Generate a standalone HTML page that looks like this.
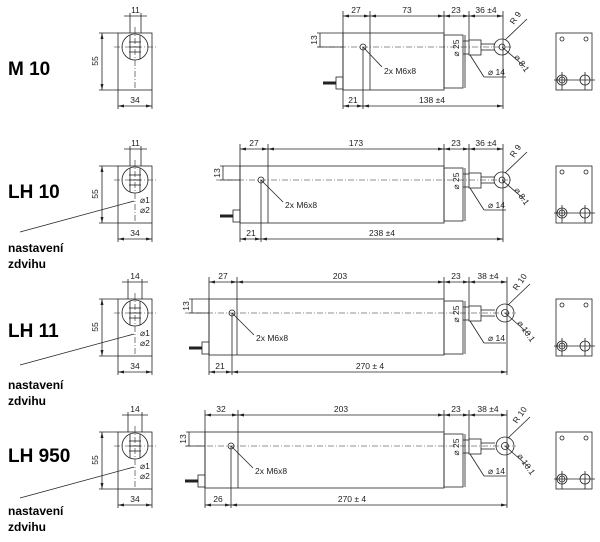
<!DOCTYPE html>
<html><head><meta charset="utf-8"><style>
html,body{margin:0;padding:0;background:#fff;}
svg{display:block;font-family:"Liberation Sans",sans-serif;}
.l{stroke:#222;stroke-width:0.8;fill:none}
.c{stroke:#222;stroke-width:0.6;fill:none;stroke-dasharray:6 2 1 2}
.t{font-size:8.5px;fill:#222}
.b{font-size:19px;font-weight:bold;fill:#000}
.n{font-size:12px;font-weight:bold;fill:#000}
</style></head><body>
<svg width="600" height="542" viewBox="0 0 600 542" xmlns="http://www.w3.org/2000/svg">
<defs>
<marker id="a" markerWidth="6" markerHeight="4" refX="6" refY="2" orient="auto-start-reverse" markerUnits="userSpaceOnUse"><path d="M0,0.5 L6,2 L0,3.5z" fill="#222"/></marker>
<g id="lv">
<rect class="l" x="118" y="0" width="34" height="57"/>
<circle class="l" cx="135" cy="14" r="13"/>
<line class="l" x1="130" y1="2" x2="130" y2="26"/><line class="l" x1="140" y1="2" x2="140" y2="26"/>
<line class="l" x1="129" y1="9" x2="141" y2="9"/><line class="l" x1="129" y1="14" x2="141" y2="14"/><line class="l" x1="129" y1="19" x2="141" y2="19"/>
<line class="c" x1="135" y1="-6" x2="135" y2="57"/><line class="c" x1="114" y1="14" x2="156" y2="14"/>
<line class="l" x1="99" y1="0" x2="118" y2="0"/><line class="l" x1="99" y1="57" x2="118" y2="57"/>
<line class="l" x1="102" y1="0" x2="102" y2="57" marker-start="url(#a)" marker-end="url(#a)"/>
<text class="t" transform="translate(98,28) rotate(-90)" text-anchor="middle">55</text>
<line class="l" x1="118" y1="57" x2="118" y2="76"/><line class="l" x1="152" y1="57" x2="152" y2="76"/>
<line class="l" x1="118" y1="73" x2="152" y2="73" marker-start="url(#a)" marker-end="url(#a)"/>
<text class="t" x="135" y="70" text-anchor="middle">34</text>
</g>
<g id="pl">
<rect class="l" x="556" y="0" width="36" height="57"/>
<circle class="l" cx="562" cy="6" r="2"/><circle class="l" cx="586" cy="6" r="2"/>
<circle class="l" cx="562" cy="47" r="5"/><circle class="l" cx="562" cy="47" r="3"/><circle class="l" cx="585" cy="47" r="5"/>
<line class="l" x1="554" y1="47" x2="595" y2="47"/><line class="l" x1="562" y1="39" x2="562" y2="57"/><line class="l" x1="585" y1="39" x2="585" y2="57"/>
</g>
<g id="rod">
<rect class="l" x="444" y="2" width="19" height="53"/>
<line class="l" x1="463" y1="8" x2="469" y2="8"/><line class="l" x1="463" y1="21" x2="469" y2="21"/>
<rect class="l" x="469" y="7" width="12" height="15"/>
<line class="l" x1="481" y1="11" x2="495" y2="11"/><line class="l" x1="481" y1="17" x2="495" y2="17"/>
<text class="t" transform="translate(459,15) rotate(-90)" text-anchor="middle">⌀ 25</text>
<line class="l" x1="465" y1="2" x2="465" y2="55"/>
<line class="l" x1="470" y1="22" x2="484" y2="44"/><line class="l" x1="484" y1="44" x2="506" y2="44"/>
<text class="t" x="488" y="42">⌀ 14</text>
</g>
<g id="nas">
<text class="n" x="8" y="0">nastavení</text><text class="n" x="8" y="16">zdvihu</text>
</g>
</defs>

<text class="b" x="8" y="75">M 10</text>
<text class="b" x="8" y="198">LH 10</text>
<text class="b" x="8" y="337">LH 11</text>
<text class="b" x="8" y="462">LH 950</text>
<use href="#nas" x="0" y="252"/>
<use href="#nas" x="0" y="389"/>
<use href="#nas" x="0" y="515"/>

<!-- Row 1 -->
<g transform="translate(0,33)">
<use href="#lv"/>
<line class="l" x1="130" y1="-20" x2="130" y2="0"/><line class="l" x1="141" y1="-20" x2="141" y2="0"/>
<line class="l" x1="124" y1="-17" x2="147" y2="-17"/><text class="t" x="135.5" y="-20" text-anchor="middle">11</text>
<use href="#pl"/>
<rect class="l" x="343" y="0" width="101" height="57"/>
<line class="l" x1="370" y1="0" x2="370" y2="57"/>
<use href="#rod"/>
<circle class="l" cx="502" cy="14" r="8"/><circle class="l" cx="502" cy="14" r="3"/>
<line class="c" x1="318" y1="14" x2="512" y2="14"/>
<circle class="l" cx="363" cy="14" r="3"/>
<line class="l" x1="363" y1="14" x2="363" y2="76"/>
<line class="l" x1="363" y1="14" x2="382" y2="34"/><text class="t" x="384" y="41">2x M6x8</text>
<line class="l" x1="343" y1="-22" x2="343" y2="76"/><line class="l" x1="370" y1="-22" x2="370" y2="0"/>
<line class="l" x1="444" y1="-22" x2="444" y2="0"/><line class="l" x1="469" y1="-22" x2="469" y2="7"/><line class="l" x1="503" y1="-22" x2="503" y2="76"/>
<line class="l" x1="343" y1="-17" x2="370" y2="-17" marker-start="url(#a)" marker-end="url(#a)"/>
<line class="l" x1="370" y1="-17" x2="444" y2="-17" marker-start="url(#a)" marker-end="url(#a)"/>
<line class="l" x1="444" y1="-17" x2="469" y2="-17" marker-start="url(#a)" marker-end="url(#a)"/>
<line class="l" x1="469" y1="-17" x2="503" y2="-17" marker-start="url(#a)" marker-end="url(#a)"/>
<text class="t" x="356" y="-20" text-anchor="middle">27</text><text class="t" x="407" y="-20" text-anchor="middle">73</text>
<text class="t" x="456" y="-20" text-anchor="middle">23</text><text class="t" x="486" y="-20" text-anchor="middle">36 ±4</text>
<line class="l" x1="317" y1="0" x2="343" y2="0"/><line class="l" x1="317" y1="14" x2="343" y2="14"/>
<line class="l" x1="320" y1="0" x2="320" y2="14"/><text class="t" transform="translate(317,7) rotate(-90)" text-anchor="middle">13</text>
<rect class="l" x="336" y="44" width="7" height="12"/><line class="l" x1="323" y1="50" x2="336" y2="50" style="stroke-width:3"/>
<line class="l" x1="343" y1="73" x2="363" y2="73" marker-start="url(#a)" marker-end="url(#a)"/>
<line class="l" x1="363" y1="73" x2="503" y2="73" marker-start="url(#a)" marker-end="url(#a)"/>
<text class="t" x="353" y="70" text-anchor="middle">21</text><text class="t" x="432" y="70" text-anchor="middle">138 ±4</text>
<line class="l" x1="505" y1="7" x2="527" y2="-14"/><text class="t" transform="translate(514,-8) rotate(-55)">R 9</text>
<line class="l" x1="502" y1="14" x2="525" y2="34"/><text class="t" transform="translate(514,24) rotate(55)">⌀ 8.1</text>
</g>

<!-- Row 2 -->
<g transform="translate(0,166)">
<use href="#lv"/>
<line class="l" x1="130" y1="-20" x2="130" y2="0"/><line class="l" x1="141" y1="-20" x2="141" y2="0"/>
<line class="l" x1="124" y1="-17" x2="147" y2="-17"/><text class="t" x="135.5" y="-20" text-anchor="middle">11</text>
<text class="t" x="140" y="37">⌀1</text><text class="t" x="140" y="47">⌀2</text>
<line class="l" x1="134" y1="35" x2="20" y2="66"/>
<use href="#pl"/>
<rect class="l" x="240" y="0" width="204" height="57"/>
<line class="l" x1="268" y1="0" x2="268" y2="57"/>
<use href="#rod"/>
<circle class="l" cx="502" cy="14" r="8"/><circle class="l" cx="502" cy="14" r="3"/>
<line class="c" x1="216" y1="14" x2="512" y2="14"/>
<circle class="l" cx="261" cy="14" r="3"/>
<line class="l" x1="261" y1="14" x2="261" y2="76"/>
<line class="l" x1="261" y1="14" x2="283" y2="36"/><text class="t" x="285" y="42">2x M6x8</text>
<line class="l" x1="240" y1="-22" x2="240" y2="76"/><line class="l" x1="268" y1="-22" x2="268" y2="0"/>
<line class="l" x1="444" y1="-22" x2="444" y2="0"/><line class="l" x1="469" y1="-22" x2="469" y2="7"/><line class="l" x1="503" y1="-22" x2="503" y2="76"/>
<line class="l" x1="240" y1="-17" x2="268" y2="-17" marker-start="url(#a)" marker-end="url(#a)"/>
<line class="l" x1="268" y1="-17" x2="444" y2="-17" marker-start="url(#a)" marker-end="url(#a)"/>
<line class="l" x1="444" y1="-17" x2="469" y2="-17" marker-start="url(#a)" marker-end="url(#a)"/>
<line class="l" x1="469" y1="-17" x2="503" y2="-17" marker-start="url(#a)" marker-end="url(#a)"/>
<text class="t" x="254" y="-20" text-anchor="middle">27</text><text class="t" x="356" y="-20" text-anchor="middle">173</text>
<text class="t" x="456" y="-20" text-anchor="middle">23</text><text class="t" x="486" y="-20" text-anchor="middle">36 ±4</text>
<line class="l" x1="220" y1="0" x2="240" y2="0"/><line class="l" x1="220" y1="14" x2="240" y2="14"/>
<line class="l" x1="223" y1="0" x2="223" y2="14"/><text class="t" transform="translate(220,7) rotate(-90)" text-anchor="middle">13</text>
<rect class="l" x="233" y="44" width="7" height="12"/><line class="l" x1="220" y1="50" x2="233" y2="50" style="stroke-width:3"/>
<line class="l" x1="240" y1="73" x2="261" y2="73" marker-start="url(#a)" marker-end="url(#a)"/>
<line class="l" x1="261" y1="73" x2="503" y2="73" marker-start="url(#a)" marker-end="url(#a)"/>
<text class="t" x="251" y="70" text-anchor="middle">21</text><text class="t" x="382" y="70" text-anchor="middle">238 ±4</text>
<line class="l" x1="505" y1="7" x2="527" y2="-14"/><text class="t" transform="translate(514,-8) rotate(-55)">R 9</text>
<line class="l" x1="502" y1="14" x2="525" y2="34"/><text class="t" transform="translate(514,24) rotate(55)">⌀ 8.1</text>
</g>

<!-- Row 3 -->
<g transform="translate(0,299)">
<use href="#lv"/>
<line class="l" x1="128" y1="-20" x2="128" y2="0"/><line class="l" x1="142" y1="-20" x2="142" y2="0"/>
<line class="l" x1="122" y1="-17" x2="148" y2="-17"/><text class="t" x="135" y="-20" text-anchor="middle">14</text>
<text class="t" x="140" y="37">⌀1</text><text class="t" x="140" y="47">⌀2</text>
<line class="l" x1="134" y1="35" x2="20" y2="66"/>
<use href="#pl"/>
<rect class="l" x="209" y="0" width="235" height="56"/>
<line class="l" x1="237" y1="0" x2="237" y2="56"/>
<use href="#rod"/>
<circle class="l" cx="505" cy="14" r="9"/><circle class="l" cx="505" cy="14" r="3.5"/>
<line class="c" x1="185" y1="14" x2="516" y2="14"/>
<circle class="l" cx="232" cy="14" r="3"/>
<line class="l" x1="232" y1="14" x2="232" y2="76"/>
<line class="l" x1="232" y1="14" x2="254" y2="36"/><text class="t" x="256" y="42">2x M6x8</text>
<line class="l" x1="209" y1="-22" x2="209" y2="76"/><line class="l" x1="237" y1="-22" x2="237" y2="0"/>
<line class="l" x1="444" y1="-22" x2="444" y2="0"/><line class="l" x1="469" y1="-22" x2="469" y2="7"/><line class="l" x1="507" y1="-22" x2="507" y2="76"/>
<line class="l" x1="209" y1="-17" x2="237" y2="-17" marker-start="url(#a)" marker-end="url(#a)"/>
<line class="l" x1="237" y1="-17" x2="444" y2="-17" marker-start="url(#a)" marker-end="url(#a)"/>
<line class="l" x1="444" y1="-17" x2="469" y2="-17" marker-start="url(#a)" marker-end="url(#a)"/>
<line class="l" x1="469" y1="-17" x2="507" y2="-17" marker-start="url(#a)" marker-end="url(#a)"/>
<text class="t" x="223" y="-20" text-anchor="middle">27</text><text class="t" x="340" y="-20" text-anchor="middle">203</text>
<text class="t" x="456" y="-20" text-anchor="middle">23</text><text class="t" x="488" y="-20" text-anchor="middle">38 ±4</text>
<line class="l" x1="189" y1="0" x2="209" y2="0"/><line class="l" x1="189" y1="14" x2="209" y2="14"/>
<line class="l" x1="192" y1="0" x2="192" y2="14"/><text class="t" transform="translate(189,7) rotate(-90)" text-anchor="middle">13</text>
<rect class="l" x="202" y="43" width="7" height="12"/><line class="l" x1="189" y1="49" x2="202" y2="49" style="stroke-width:3"/>
<line class="l" x1="209" y1="73" x2="232" y2="73" marker-start="url(#a)" marker-end="url(#a)"/>
<line class="l" x1="232" y1="73" x2="507" y2="73" marker-start="url(#a)" marker-end="url(#a)"/>
<text class="t" x="220" y="70" text-anchor="middle">21</text><text class="t" x="370" y="70" text-anchor="middle">270 ± 4</text>
<line class="l" x1="508" y1="6" x2="530" y2="-15"/><text class="t" transform="translate(517,-8) rotate(-55)">R 10</text>
<line class="l" x1="505" y1="14" x2="530" y2="36"/><text class="t" transform="translate(517,24) rotate(55)">⌀ 10.1</text>
</g>

<!-- Row 4 -->
<g transform="translate(0,432)">
<use href="#lv"/>
<line class="l" x1="128" y1="-20" x2="128" y2="0"/><line class="l" x1="142" y1="-20" x2="142" y2="0"/>
<line class="l" x1="122" y1="-17" x2="148" y2="-17"/><text class="t" x="135" y="-20" text-anchor="middle">14</text>
<text class="t" x="140" y="37">⌀1</text><text class="t" x="140" y="47">⌀2</text>
<line class="l" x1="134" y1="35" x2="20" y2="66"/>
<use href="#pl"/>
<rect class="l" x="205" y="0" width="239" height="56"/>
<line class="l" x1="238" y1="0" x2="238" y2="56"/>
<use href="#rod"/>
<circle class="l" cx="505" cy="14" r="9"/><circle class="l" cx="505" cy="14" r="3.5"/>
<line class="c" x1="185" y1="14" x2="516" y2="14"/>
<circle class="l" cx="231" cy="14" r="3"/>
<line class="l" x1="231" y1="14" x2="231" y2="76"/>
<line class="l" x1="231" y1="14" x2="253" y2="36"/><text class="t" x="255" y="42">2x M6x8</text>
<line class="l" x1="205" y1="-22" x2="205" y2="76"/><line class="l" x1="238" y1="-22" x2="238" y2="0"/>
<line class="l" x1="444" y1="-22" x2="444" y2="0"/><line class="l" x1="469" y1="-22" x2="469" y2="7"/><line class="l" x1="507" y1="-22" x2="507" y2="76"/>
<line class="l" x1="205" y1="-17" x2="238" y2="-17" marker-start="url(#a)" marker-end="url(#a)"/>
<line class="l" x1="238" y1="-17" x2="444" y2="-17" marker-start="url(#a)" marker-end="url(#a)"/>
<line class="l" x1="444" y1="-17" x2="469" y2="-17" marker-start="url(#a)" marker-end="url(#a)"/>
<line class="l" x1="469" y1="-17" x2="507" y2="-17" marker-start="url(#a)" marker-end="url(#a)"/>
<text class="t" x="221" y="-20" text-anchor="middle">32</text><text class="t" x="341" y="-20" text-anchor="middle">203</text>
<text class="t" x="456" y="-20" text-anchor="middle">23</text><text class="t" x="488" y="-20" text-anchor="middle">38 ±4</text>
<line class="l" x1="186" y1="0" x2="205" y2="0"/><line class="l" x1="186" y1="14" x2="205" y2="14"/>
<line class="l" x1="189" y1="0" x2="189" y2="14"/><text class="t" transform="translate(186,7) rotate(-90)" text-anchor="middle">13</text>
<rect class="l" x="198" y="43" width="7" height="12"/><line class="l" x1="185" y1="49" x2="198" y2="49" style="stroke-width:3"/>
<line class="l" x1="205" y1="73" x2="231" y2="73" marker-start="url(#a)" marker-end="url(#a)"/>
<line class="l" x1="231" y1="73" x2="507" y2="73" marker-start="url(#a)" marker-end="url(#a)"/>
<text class="t" x="218" y="70" text-anchor="middle">26</text><text class="t" x="352" y="70" text-anchor="middle">270 ± 4</text>
<line class="l" x1="508" y1="6" x2="530" y2="-15"/><text class="t" transform="translate(517,-8) rotate(-55)">R 10</text>
<line class="l" x1="505" y1="14" x2="530" y2="36"/><text class="t" transform="translate(517,24) rotate(55)">⌀ 10.1</text>
</g>
</svg>
</body></html>
